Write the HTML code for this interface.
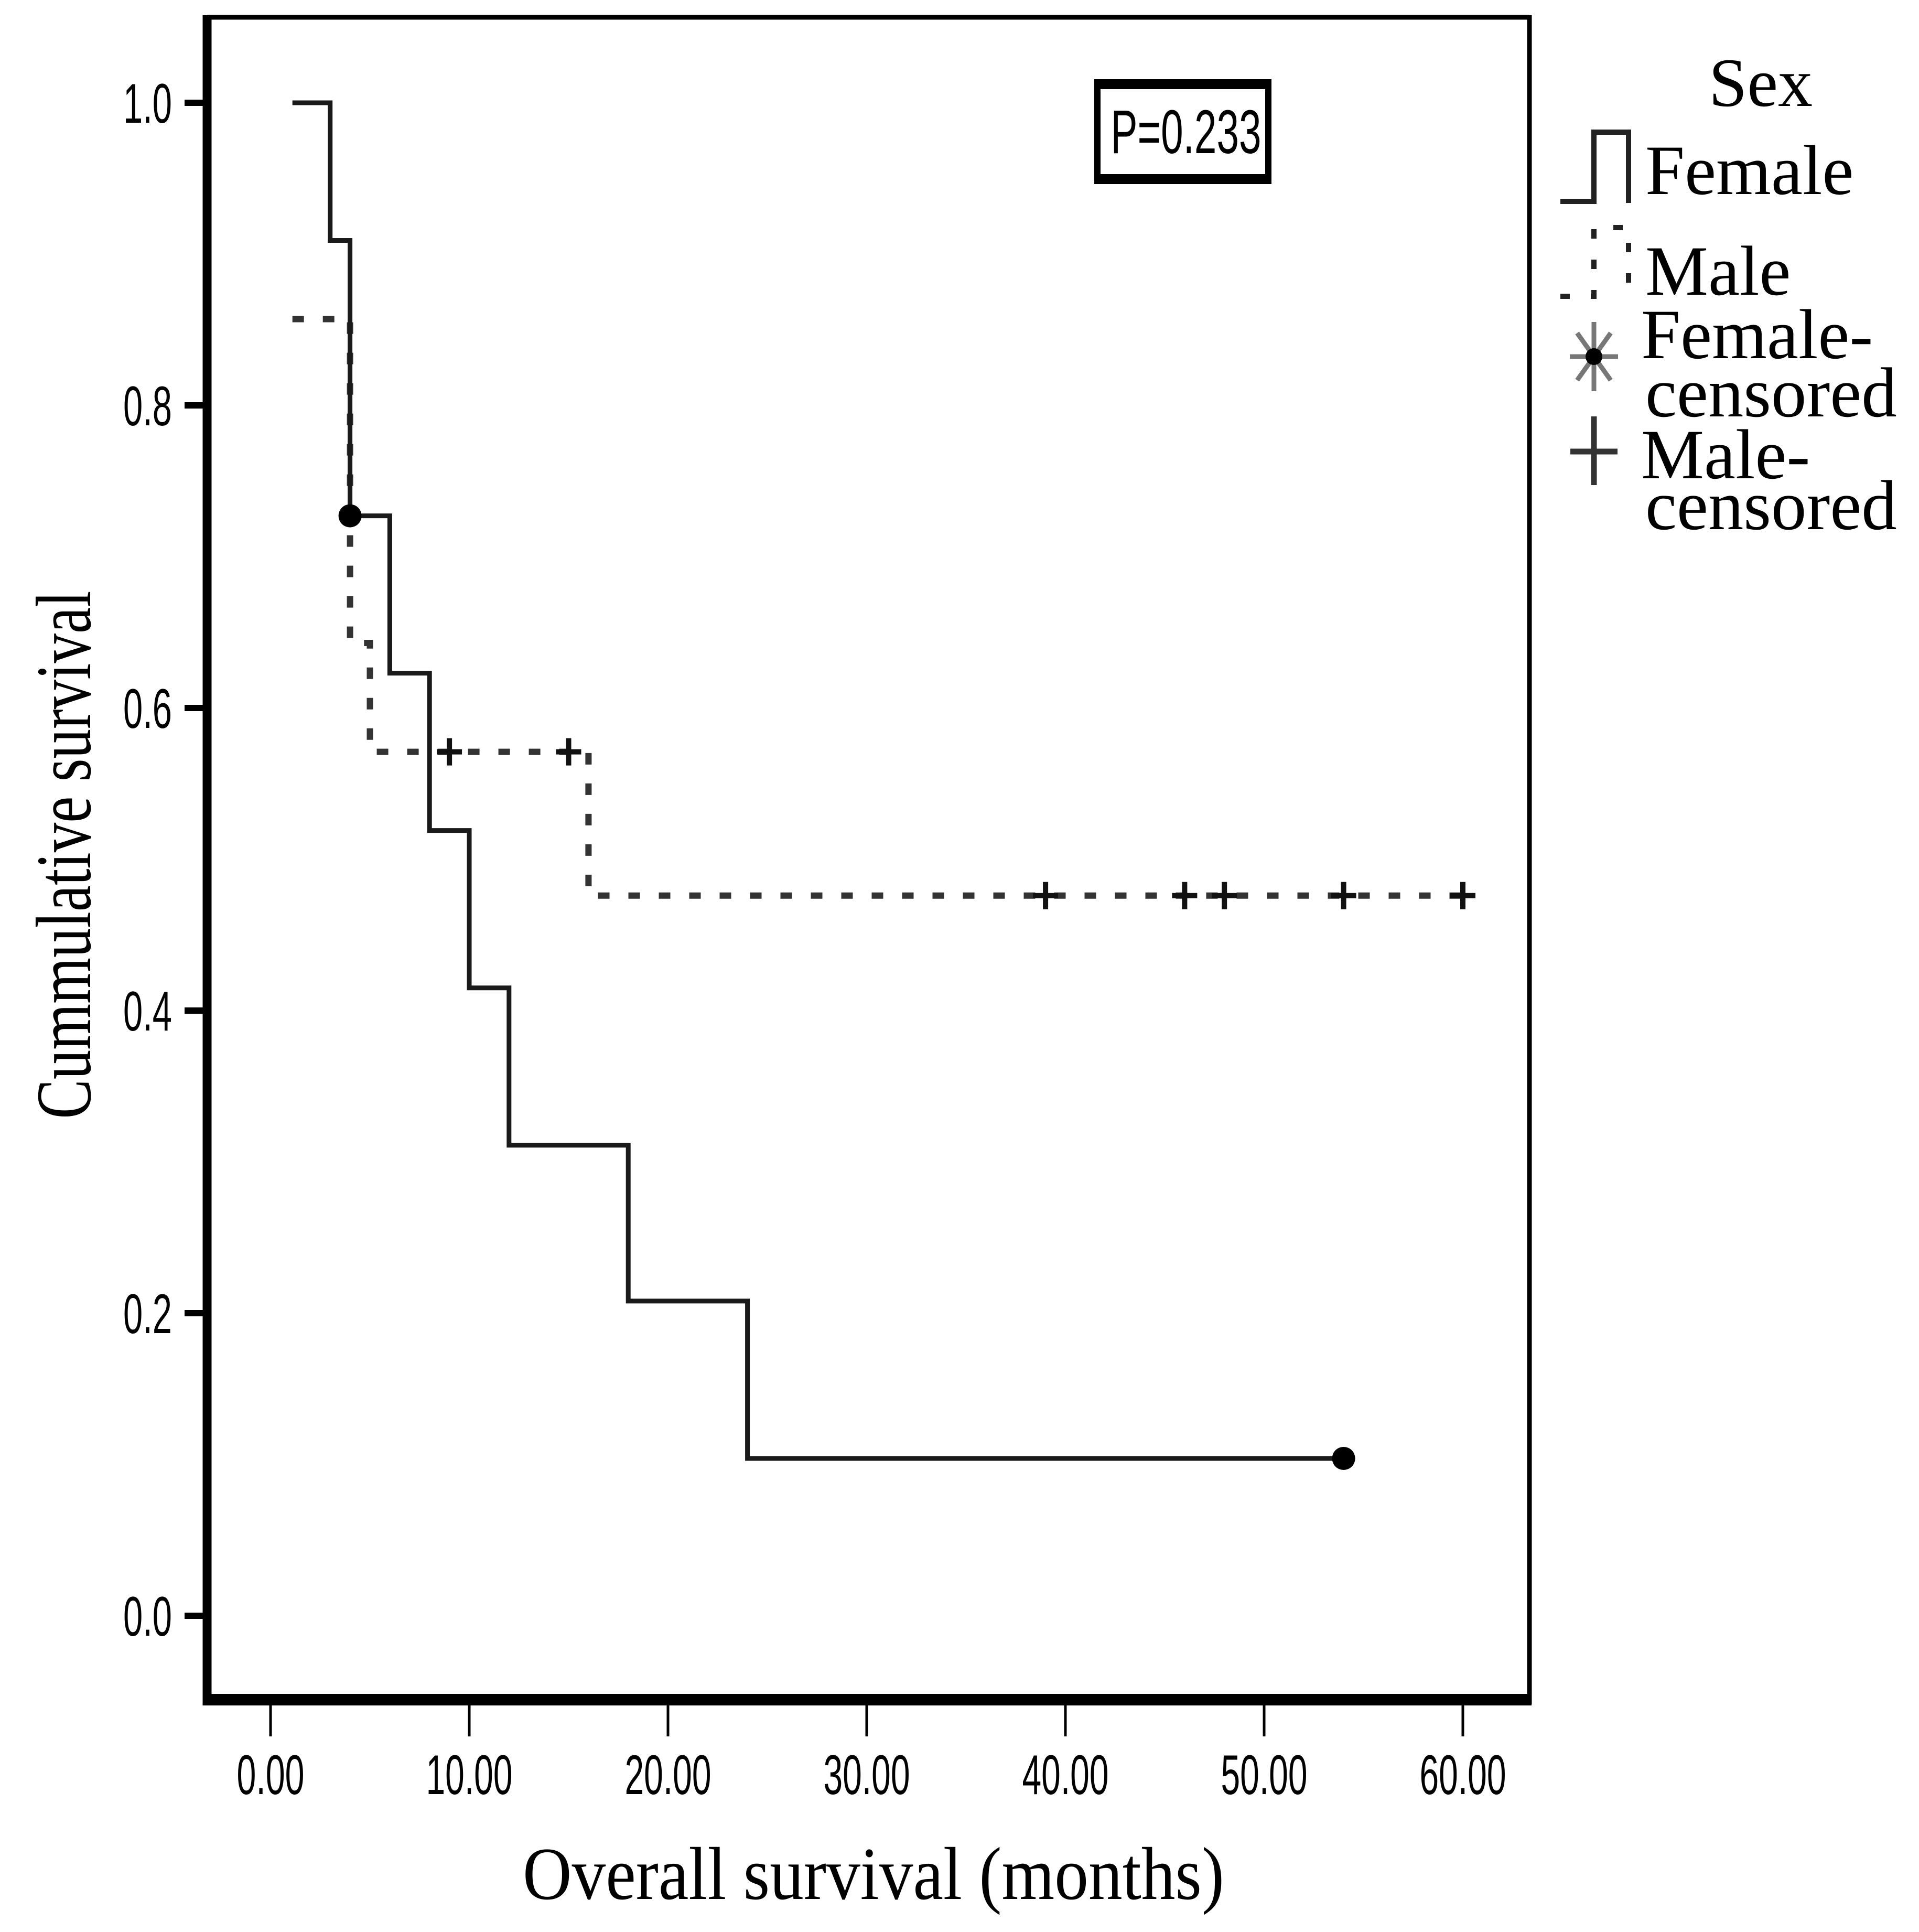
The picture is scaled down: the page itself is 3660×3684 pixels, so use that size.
<!DOCTYPE html>
<html><head><meta charset="utf-8"><style>
html,body{margin:0;padding:0;background:#fff;}
svg{display:block;}
</style></head><body>
<svg id="chart" width="3660" height="3684" viewBox="0 0 3660 3684" xmlns="http://www.w3.org/2000/svg">
<rect x="0" y="0" width="3660" height="3684" fill="#fff"/>
<g id="frame">
  <line x1="395" y1="33" x2="2917" y2="33" stroke="#000" stroke-width="9"/>
  <line x1="2917" y1="29" x2="2917" y2="3250" stroke="#000" stroke-width="9"/>
  <line x1="395" y1="29" x2="395" y2="3252" stroke="#000" stroke-width="17"/>
  <line x1="388" y1="3241" x2="2921" y2="3241" stroke="#000" stroke-width="22"/>
</g>
<g id="yaxis"></g>
<g id="xaxis"></g>
<g id="series"></g>
<text x="172" y="1630" transform="rotate(-90 172 1630)" text-anchor="middle" font-family="Liberation Serif, serif" font-size="150" textLength="1007" lengthAdjust="spacingAndGlyphs">Cummulative survival</text>
<text x="1666" y="3621" text-anchor="middle" font-family="Liberation Serif, serif" font-size="143" textLength="1338" lengthAdjust="spacingAndGlyphs">Overall survival (months)</text>
<g>
  <rect x="2093" y="157" width="326" height="188" fill="#fff" stroke="#000" stroke-width="12"/>
  <line x1="2093" y1="163" x2="2419" y2="163" stroke="#000" stroke-width="14"/>
  <line x1="2093" y1="339" x2="2419" y2="339" stroke="#000" stroke-width="14"/>
  <text x="2262" y="292" text-anchor="middle" font-family="Liberation Sans, sans-serif" font-size="118" textLength="287" lengthAdjust="spacingAndGlyphs">P=0.233</text>
</g>
<g>
  <text x="3358" y="202" text-anchor="middle" font-family="Liberation Serif, serif" font-size="132">Sex</text>
  <polyline points="2976,384 3040,384 3040,252 3106,252 3106,387" fill="none" stroke="#222" stroke-width="10"/>
  <text x="3138" y="370" font-family="Liberation Serif, serif" font-size="135">Female</text>
  <polyline points="2976,565 3040,565 3040,434 3106,434 3106,565" fill="none" stroke="#222" stroke-width="10" stroke-dasharray="18 40"/>
  <text x="3138" y="562" font-family="Liberation Serif, serif" font-size="135">Male</text>
  <g stroke="#777" stroke-width="9">
    <line x1="3040" y1="614" x2="3040" y2="746"/><line x1="2994" y1="680" x2="3086" y2="680"/>
    <line x1="3008" y1="635" x2="3072" y2="725"/><line x1="3072" y1="635" x2="3008" y2="725"/>
    <circle cx="3040" cy="680" r="16" fill="#000" stroke="none"/>
  </g>
  <text x="3130" y="683" font-family="Liberation Serif, serif" font-size="135">Female-</text>
  <text x="3138" y="794" font-family="Liberation Serif, serif" font-size="135">censored</text>
  <g stroke="#333" stroke-width="11">
    <line x1="2995" y1="861" x2="3085" y2="861"/><line x1="3040" y1="794" x2="3040" y2="925"/>
  </g>
  <text x="3130" y="912" font-family="Liberation Serif, serif" font-size="135">Male-</text>
  <text x="3138" y="1009" font-family="Liberation Serif, serif" font-size="135">censored</text>
</g>
</svg>
<script>
const yTicks = [0.0, 0.2, 0.4, 0.6, 0.8, 1.0];
const yTickLabels = ["0.0", "0.2", "0.4", "0.6", "0.8", "1.0"];
const xTicks = [0, 10, 20, 30, 40, 50, 60];
const xTickLabels = ["0.00", "10.00", "20.00", "30.00", "40.00", "50.00", "60.00"];
const femaleStart = 1.1;
const femaleTimes = [3, 4, 6, 8, 10, 12, 18, 24];
const femaleSurv = [1.0, 0.909, 0.727, 0.623, 0.519, 0.415, 0.311, 0.208, 0.104];
const femaleEnd = 54;
const femaleCensorT = [4, 54];
const femaleCensorS = [0.727, 0.104];
const maleStart = 1.1;
const maleTimes = [4, 5, 16];
const maleSurv = [0.857, 0.643, 0.571, 0.476];
const maleEnd = 60;
const maleCensorT = [9, 15, 39, 46, 48, 54, 60];
const maleCensorS = [0.571, 0.571, 0.476, 0.476, 0.476, 0.476, 0.476];

const NS = 'http://www.w3.org/2000/svg';
function xs(t){ return 516 + t * (2790 - 516) / 60; }
function ys(s){ return 3081 - s * (3081 - 196); }
function mk(tag, attrs, parent){ const e = document.createElementNS(NS, tag); for (const k in attrs) e.setAttribute(k, attrs[k]); parent.appendChild(e); return e; }

const yAxis = document.getElementById('yaxis');
yTicks.forEach((v, i) => {
  const t = mk('line', {x1: 352, x2: 392, y1: ys(v), y2: ys(v), stroke: '#000', 'stroke-width': 12}, yAxis);
  
  
  const l = mk('text', {x: 328, y: ys(v) + 38, 'text-anchor': 'end', 'font-family': 'Liberation Sans, sans-serif', 'font-size': 107, textLength: 93, lengthAdjust: 'spacingAndGlyphs'}, yAxis);
  l.textContent = yTickLabels[i];
  
  
});
const xAxis = document.getElementById('xaxis');
xTicks.forEach((v, i) => {
  const t = mk('line', {x1: xs(v), x2: xs(v), y1: 3250, y2: 3311, stroke: '#000', 'stroke-width': 5}, xAxis);
  
  
  const w = xTickLabels[i].length > 4 ? 165 : 129;
  const l = mk('text', {x: xs(v), y: 3421, 'text-anchor': 'middle', 'font-family': 'Liberation Sans, sans-serif', 'font-size': 107, textLength: w, lengthAdjust: 'spacingAndGlyphs'}, xAxis);
  l.textContent = xTickLabels[i];
  
  
});

function stepPath(start, times, surv, end){
  let d = 'M' + xs(start) + ',' + ys(surv[0]);
  times.forEach((t, i) => { d += ' H' + xs(t) + ' V' + ys(surv[i + 1]); });
  d += ' H' + xs(end);
  return d;
}
const series = document.getElementById('series');
const mp = mk('path', {d: stepPath(maleStart, maleTimes, maleSurv, maleEnd), fill: 'none', stroke: '#333', 'stroke-width': 12, 'stroke-dasharray': '22 36'}, series);


const fp = mk('path', {d: stepPath(femaleStart, femaleTimes, femaleSurv, femaleEnd), fill: 'none', stroke: '#1a1a1a', 'stroke-width': 9}, series);


maleCensorT.forEach((t, i) => {
  const g = mk('g', {stroke: '#111', 'stroke-width': 10}, series);
  
  
  mk('line', {x1: xs(t) - 24, x2: xs(t) + 24, y1: ys(maleCensorS[i]), y2: ys(maleCensorS[i])}, g);
  mk('line', {x1: xs(t), x2: xs(t), y1: ys(maleCensorS[i]) - 26, y2: ys(maleCensorS[i]) + 26}, g);
});
femaleCensorT.forEach((t, i) => {
  const c = mk('circle', {cx: xs(t), cy: ys(femaleCensorS[i]), r: 22, fill: '#000'}, series);
  
  
});
</script>
</body></html>
